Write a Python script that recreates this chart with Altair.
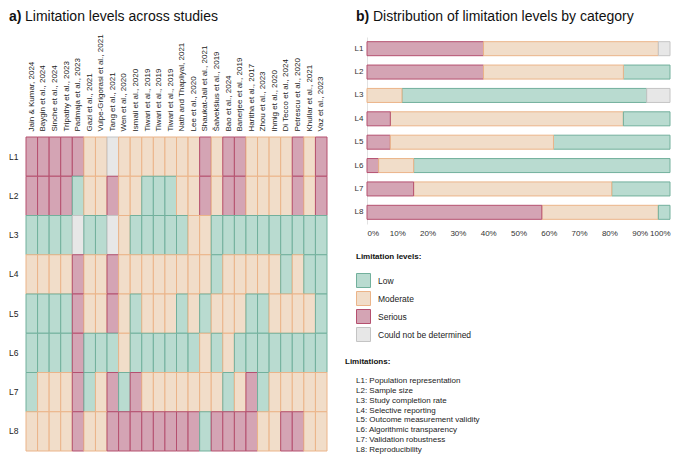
import json
import altair as alt
import pandas as pd

studies = [
    "Jain & Kumar, 2024", "Baygin et al., 2024", "Sinche et al., 2024", "Tripathy et al., 2023",
    "Padmaja et al., 2023", "Gazi et al., 2021", "Vulpe-Grigorasi et al., 2021", "Tang et al., 2021",
    "Wen et al., 2020", "Ismail et al., 2020", "Tiwari et al., 2019", "Tiwari et al., 2019",
    "Tiwari et al., 2019", "Nath and Thapliyal, 2021", "Lee et al., 2020", "Shaukat-Jali et al., 2021",
    "Šalvekšius et al., 2019", "Bao et al., 2024", "Banerjee et al., 2019", "Haritha et al., 2017",
    "Zhou et al., 2023", "Ihmig et al., 2020", "Di Tecco et al., 2024", "Petrescu et al., 2020",
    "Khullar et al., 2021", "Vaz et al., 2023",
]
limitations = ["L1", "L2", "L3", "L4", "L5", "L6", "L7", "L8"]

# S = Serious, M = Moderate, L = Low, N = Could not be determined (one code per study)
L1 = list("SSSSSMMNMMMMMMMSMSSMMMMSMS")
L2 = list("SSSSLMMSMMLLLMMSMSSMMMMSMS")
L3 = list("LLLLNLLNMLLLLLMMLLLLLLLLLL")
L4 = list("MMMMSMMSMMMMMMMMLMMMMMLMLL")
L5 = list("LLLLSMMSMLMMMLMLMMMLLMMMML")
L6 = list("LLLLSLLLMLLLLLLMLMLLLLLLLL")
L7 = list("LMMMSLMSLSMMMMMMMLMSLMMMMM")
L8 = list("MMMMSMMSSSSSSSSLSSSSMMSSMM")
codes_by_row = [L1, L2, L3, L4, L5, L6, L7, L8]

level_names = {"L": "Low", "M": "Moderate", "S": "Serious", "N": "Could not be determined"}
level_order = ["Low", "Moderate", "Serious", "Could not be determined"]
stack_rank = {"Serious": 0, "Moderate": 1, "Low": 2, "Could not be determined": 3}
fill_colors = ["#b9dbd0", "#f1ddc9", "#d4a4b4", "#e7e7e7"]
stroke_colors = ["#72b09c", "#ebb489", "#b5506f", "#c4c4c4"]

descriptions = [
    "L1: Population representation",
    "L2: Sample size",
    "L3: Study completion rate",
    "L4: Selective reporting",
    "L5: Outcome measurement validity",
    "L6: Algorithmic transparency",
    "L7: Validation robustness",
    "L8: Reproducibility",
]

rows = []
for lim, codes in zip(limitations, codes_by_row):
    for i, c in enumerate(codes):
        lvl = level_names[c]
        rows.append({"limitation": lim, "study_idx": i, "level": lvl, "rank": stack_rank[lvl]})
df = pd.DataFrame(rows)

FONT = "Liberation Sans"
label_expr = "[" + ",".join(json.dumps(s, ensure_ascii=False) for s in studies) + "][datum.value]"

fill_scale = alt.Scale(domain=level_order, range=fill_colors)
stroke_scale = alt.Scale(domain=level_order, range=stroke_colors)

LABEL_BAND = 100      # room above the grid for the study names
GRID_H = 314
TITLE_Y = -16
TITLE_SIZE = 14

heat = alt.Chart(df).mark_rect(strokeWidth=1).encode(
    x=alt.X("study_idx:O", title=None,
            scale=alt.Scale(paddingInner=0, paddingOuter=0),
            axis=alt.Axis(orient="top", offset=-LABEL_BAND, labelAngle=-90, labelExpr=label_expr,
                          domain=False, ticks=False, labelFontSize=8, labelPadding=6,
                          labelColor="#222")),
    y=alt.Y("limitation:O", title=None,
            scale=alt.Scale(paddingInner=0, paddingOuter=0, range=[LABEL_BAND, LABEL_BAND + GRID_H]),
            axis=alt.Axis(domain=False, ticks=False, labelFontSize=8.5, labelPadding=8,
                          labelColor="#222")),
    fill=alt.Fill("level:N", scale=fill_scale, legend=None),
    stroke=alt.Stroke("level:N", scale=stroke_scale, legend=None),
)

title_a1 = alt.Chart(pd.DataFrame({"t": ["a)"]})).mark_text(
    align="left", baseline="alphabetic", fontSize=TITLE_SIZE, fontWeight="bold", font=FONT, color="#111"
).encode(text="t:N", x=alt.value(-17), y=alt.value(TITLE_Y))
title_a2 = alt.Chart(pd.DataFrame({"t": ["Limitation levels across studies"]})).mark_text(
    align="left", baseline="alphabetic", fontSize=TITLE_SIZE, font=FONT, color="#111"
).encode(text="t:N", x=alt.value(-1), y=alt.value(TITLE_Y))

left = alt.layer(heat, title_a1, title_a2).properties(width=301, height=LABEL_BAND + GRID_H)

legend_cfg = alt.Legend(
    title="Limitation levels:", orient="none", legendX=-11, legendY=216,
    symbolType="square", symbolSize=196, symbolStrokeWidth=1, rowPadding=-1,
    labelFontSize=8.5, labelOffset=7, labelColor="#222", titleFontSize=8,
    titleFontWeight="bold", titleColor="#111", titlePadding=12,
)

bars = alt.Chart(df).mark_bar(strokeWidth=1).encode(
    y=alt.Y("limitation:O", title=None, scale=alt.Scale(paddingInner=0.4, paddingOuter=0.2),
            axis=alt.Axis(ticks=False, domainColor="#e2e2e2", labelFontSize=8, labelPadding=4,
                          labelColor="#333")),
    x=alt.X("count():Q", stack="normalize", title=None, scale=alt.Scale(domain=[0, 1]),
            axis=alt.Axis(format=".0%", values=[i / 10 for i in range(11)], grid=False,
                          domain=False, ticks=False, labelFontSize=8, labelPadding=5,
                          labelColor="#333")),
    fill=alt.Fill("level:N", scale=fill_scale, legend=legend_cfg),
    stroke=alt.Stroke("level:N", scale=stroke_scale, legend=legend_cfg),
    order=alt.Order("rank:Q"),
)

title_b1 = alt.Chart(pd.DataFrame({"t": ["b)"]})).mark_text(
    align="left", baseline="alphabetic", fontSize=TITLE_SIZE, fontWeight="bold", font=FONT, color="#111"
).encode(text="t:N", x=alt.value(-11), y=alt.value(TITLE_Y))
title_b2 = alt.Chart(pd.DataFrame({"t": ["Distribution of limitation levels by category"]})).mark_text(
    align="left", baseline="alphabetic", fontSize=TITLE_SIZE, font=FONT, color="#111"
).encode(text="t:N", x=alt.value(6), y=alt.value(TITLE_Y))

bar_panel = alt.layer(bars, title_b1, title_b2).properties(width=303, height=187)

lim_text = alt.Chart(pd.DataFrame({"d": descriptions, "i": list(range(len(descriptions)))})).mark_text(
    align="left", baseline="middle", fontSize=8, font=FONT, color="#222"
).encode(
    y=alt.Y("i:O", axis=None, scale=alt.Scale(paddingInner=0, paddingOuter=0.5)),
    text="d:N",
    x=alt.value(-11),
).properties(
    width=303, height=79,
    title=alt.TitleParams("Limitations:", anchor="start", fontSize=8, fontWeight="bold",
                          color="#111", offset=10, dx=-11),
)

right = alt.vconcat(bar_panel, lim_text, spacing=14).resolve_scale(fill="independent", stroke="independent")

chart = alt.concat(left, right, columns=2, align="none", spacing=17).resolve_scale(
    fill="independent", stroke="independent"
).resolve_legend(fill="independent", stroke="independent").properties(
    padding={"left": 0, "top": 2, "right": 0, "bottom": 0}
).configure(font=FONT).configure_view(strokeWidth=0, stroke=None)

chart.save("out.html", embed_options={"renderer": "svg", "actions": False})
